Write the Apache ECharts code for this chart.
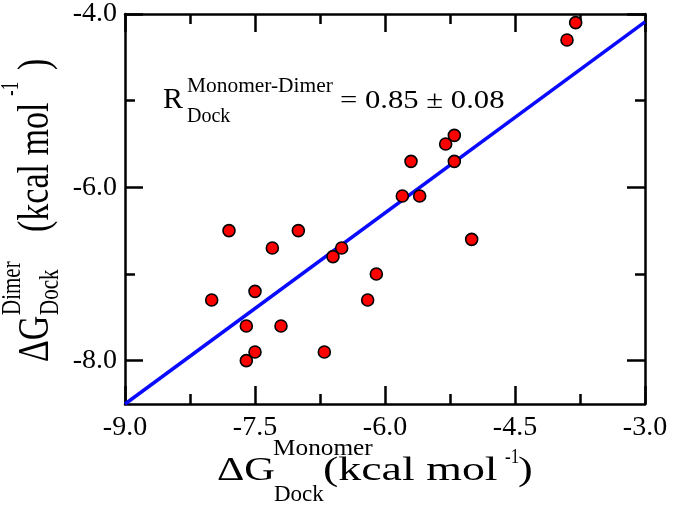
<!DOCTYPE html>
<html>
<head>
<meta charset="utf-8">
<script src="https://cdn.jsdelivr.net/npm/echarts@6/dist/echarts.min.js"></script>
<style>html,body{margin:0;padding:0;background:#fff}#c{width:673px;height:508px}</style>
</head>
<body>
<div id="c"></div>
<script>
// Data
const monomerX = [-7.8, -7.0, -7.3, -6.6, -6.5, -6.1, -8.0, -7.5, -6.2, -7.6, -7.2, -7.5, -7.6, -6.7, -5.8, -5.6, -5.0, -3.8, -3.9, -5.7, -5.3, -5.2, -5.2];
const dimerY   = [-6.5, -6.5, -6.7, -6.8, -6.7, -7.0, -7.3, -7.2, -7.3, -7.6, -7.6, -7.9, -8.0, -7.9, -6.1, -6.1, -6.6, -4.1, -4.3, -5.7, -5.5, -5.4, -5.7];
const fitX = [-9.0, -3.0];
const fitY = [-8.5, -4.09];
const yTicks = [-8, -6, -4];
const yMinorTicks = [-7, -5];
const xMin = -9, xMax = -3, xInterval = 1.5;
const yMin = -8.5, yMax = -4;

const FONT = 'Liberation Serif';
const chart = echarts.init(document.getElementById('c'), null, {renderer: 'canvas'});

function txt(text, x, baseline, fs, sx, sy) {
  return {
    type: 'text', x: x, y: baseline - 0.3375 * fs,
    scaleX: sx || 1, scaleY: sy || 1,
    style: {text: text, fontSize: fs, fontFamily: FONT, fontWeight: 'normal', fill: '#000',
      align: 'left', verticalAlign: 'middle'}
  };
}

function xAx(pos, showLabel) {
  return {
    type: 'value', position: pos, min: xMin, max: xMax, interval: xInterval,
    axisLine: {show: true, onZero: false, lineStyle: {color: '#000', width: 2.5}},
    axisTick: {show: true, inside: true, length: 18, lineStyle: {color: '#000', width: 2.5}},
    minorTick: {show: true, splitNumber: 2, length: 10, lineStyle: {color: '#000', width: 2.5}},
    axisLabel: {show: showLabel, margin: 10, color: '#000', fontSize: 28, fontFamily: FONT,
      formatter: v => v.toFixed(1)},
    splitLine: {show: false}, minorSplitLine: {show: false}
  };
}
function yAx(pos, values, len, showLabel, showLine) {
  return {
    type: 'value', position: pos, min: yMin, max: yMax,
    axisLine: {show: showLine, onZero: false, lineStyle: {color: '#000', width: 2.5}},
    axisTick: {show: true, inside: true, length: len, customValues: values, lineStyle: {color: '#000', width: 2.5}},
    axisLabel: {show: showLabel, margin: 8, color: '#000', fontSize: 28, fontFamily: FONT,
      customValues: values, formatter: v => v.toFixed(1)},
    splitLine: {show: false}
  };
}

const option = {
  animation: false,
  backgroundColor: '#fff',
  grid: {left: 125, right: 28, top: 14, bottom: 104, containLabel: false},
  xAxis: [xAx('bottom', true), xAx('top', false)],
  yAxis: [
    yAx('left', yTicks, 18, true, true),
    yAx('left', yMinorTicks, 10, false, false),
    yAx('right', yTicks, 18, false, true),
    yAx('right', yMinorTicks, 10, false, false)
  ],
  series: [
    {
      type: 'line', xAxisIndex: 0, yAxisIndex: 0,
      data: fitX.map((x, i) => [x, fitY[i]]),
      symbol: 'none', lineStyle: {color: '#0a0aff', width: 3.5}, clip: true, z: 2
    },
    {
      type: 'scatter', xAxisIndex: 0, yAxisIndex: 0,
      data: monomerX.map((x, i) => [x, dimerY[i]]),
      symbol: 'circle', symbolSize: 12,
      itemStyle: {color: '#ff0000', borderColor: '#000', borderWidth: 1.6, opacity: 1}, z: 3
    }
  ],
  graphic: [
    // annotation
    txt('R', 163, 110, 30, 1.0),
    txt('Monomer-Dimer', 187, 93, 20, 1.07),
    txt('Dock', 187, 123, 20, 1.0),
    txt('= 0.85 \u00B1 0.08', 340, 110, 26, 1.18),
    // x-axis title
    txt('\u0394G', 217, 483, 34, 1.25),
    txt('Monomer', 273, 457, 23, 1.1),
    txt('Dock', 274, 503, 23, 1.0),
    txt('(kcal mol', 323, 483, 34, 1.35),
    txt('-1', 505, 464, 20, 0.85),
    txt(')', 518, 483, 34, 1.3),
    // y-axis title (rotated)
    {
      type: 'group', x: 48, y: 362, rotation: Math.PI / 2,
      children: [
        txt('\u0394G', 0, 0, 34, 1, 1.3),
        txt('Dimer', 47, -28, 21, 1, 1.3),
        txt('Dock', 47, 10, 21, 1, 1.3),
        txt('(kcal mol', 130, 0, 34, 1, 1.3),
        txt('-1', 266, -30, 20, 0.85, 1.3),
        txt(')', 292, 0, 34, 1, 1.3)
      ]
    }
  ]
};
chart.setOption(option);
</script>
</body>
</html>
